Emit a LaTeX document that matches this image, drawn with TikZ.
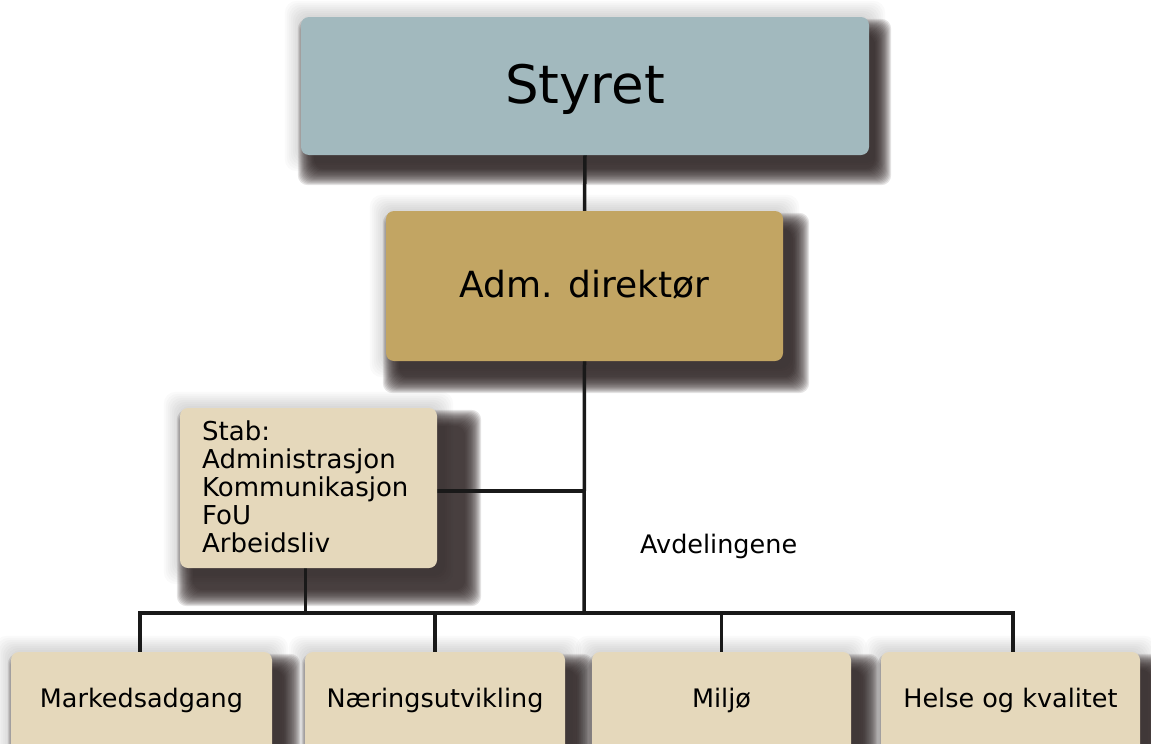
\documentclass[tikz,border=0pt]{standalone}
\usepackage{fontspec}
\setmainfont{DejaVu Sans}
\definecolor{styretcol}{HTML}{A2B9BE}
\definecolor{admcol}{HTML}{C2A563}
\definecolor{lightcol}{HTML}{E5D8BB}
\definecolor{shadowcol}{HTML}{2E2424}
\tikzset{
  box/.style={rectangle, rounded corners=8pt, inner sep=0pt, draw=none},
  conn/.style={line width=3.5pt, black!90},
  lbl/.style={font=\fontsize{25.5}{28}\selectfont},
}
\newcommand\mydropshadow[3]{%
  \foreach \g in {2,4,...,16}{%
    \fill[black, fill opacity=0.018, rounded corners=12pt]
      ([shift={(-\g,-\g)}]#1.north west) rectangle ([shift={(\g,\g)}]#1.south east);
  }%
  \foreach \k in {0,...,15}{%
    \pgfmathsetmacro\ee{-8+\k*16/15}%
    \pgfmathsetmacro\ax{5-\ee}%
    \pgfmathsetmacro\ay{10-\ee}%
    \pgfmathsetmacro\bx{#2+\ee}%
    \pgfmathsetmacro\by{#3+\ee}%
    \fill[shadowcol, fill opacity=0.12, rounded corners=10pt]
      ([shift={(\ax,\ay)}]#1.north west) rectangle ([shift={(\bx,\by)}]#1.south east);
  }%
}
\begin{document}
\begin{tikzpicture}[x=1pt,y=-1pt]
\useasboundingbox (0,0) rectangle (1151,744);
\clip (0,0) rectangle (1151,744);
% box footprints (anchors for shadows and connectors)
\path
  node[box, minimum width=568pt, minimum height=138pt] (styret) at (585,86) {}
  node[box, minimum width=397pt, minimum height=150pt] (adm) at (584.5,286) {}
  node[box, minimum width=257pt, minimum height=160pt] (stab) at (308.5,488) {}
  node[box, minimum width=261pt, minimum height=150pt] (m) at (141.5,727) {}
  node[box, minimum width=260pt, minimum height=150pt] (n) at (435,727) {}
  node[box, minimum width=259pt, minimum height=150pt] (mi) at (721.5,727) {}
  node[box, minimum width=259pt, minimum height=150pt] (h) at (1010.5,727) {};
% shadows
\mydropshadow{styret}{14}{22}
\mydropshadow{adm}{18}{24}
\mydropshadow{stab}{36}{30}
\mydropshadow{m}{20}{22}
\mydropshadow{n}{20}{22}
\mydropshadow{mi}{20}{22}
\mydropshadow{h}{20}{22}
% connectors
\coordinate (busc) at (584,613);
\draw[conn] (styret.south) -- (adm.north);
\draw[conn] (adm.south) -- (busc);
\draw[conn] ([yshift=-3pt]stab.east) -- ([yshift=-3pt]stab.east -| busc);
\draw[conn] ([xshift=-3pt]stab.south) -- ([xshift=-3pt]stab.south |- busc);
\draw[conn] ([xshift=-1.5pt]m.north) -- ([xshift=-1.5pt]m.north |- busc) -- ([xshift=2.5pt]h.north |- busc) -- ([xshift=2.5pt]h.north);
\draw[conn] (n.north |- busc) -- (n.north);
\draw[conn] (mi.north |- busc) -- (mi.north);
% filled boxes with text
\node[box, fill=styretcol, minimum width=568pt, minimum height=138pt,
      font=\fontsize{53}{60}\selectfont, text height=40pt, text depth=6pt] (styretb) at (styret) {Styret};
\node[box, fill=admcol, minimum width=397pt, minimum height=150pt,
      font=\fontsize{36}{42}\selectfont, text height=27pt, text depth=5pt] (admb) at (adm) {Adm. direktør};
\node[box, fill=lightcol, minimum width=257pt, minimum height=160pt] (stabb) at (stab) {};
\node[font=\fontsize{26}{28}\selectfont, anchor=north west, inner sep=0pt, align=left, text width=235pt] (stabtxt) at (202,421)
  {Stab:\\Administrasjon\\Kommunikasjon\\FoU\\Arbeidsliv};
\node[box, fill=lightcol, lbl, minimum width=261pt, minimum height=150pt, text height=5pt, text depth=45pt] (mb) at (m) {Markedsadgang};
\node[box, fill=lightcol, lbl, minimum width=260pt, minimum height=150pt, text height=5pt, text depth=45pt] (nb) at (n) {Næringsutvikling};
\node[box, fill=lightcol, lbl, minimum width=259pt, minimum height=150pt, text height=5pt, text depth=45pt] (mib) at (mi) {Miljø};
\node[box, fill=lightcol, lbl, minimum width=259pt, minimum height=150pt, text height=5pt, text depth=45pt] (hb) at (h) {Helse og kvalitet};
\node[lbl, anchor=base west, inner sep=0pt] (avd) at (640,553) {Avdelingene};
\end{tikzpicture}
\end{document}
